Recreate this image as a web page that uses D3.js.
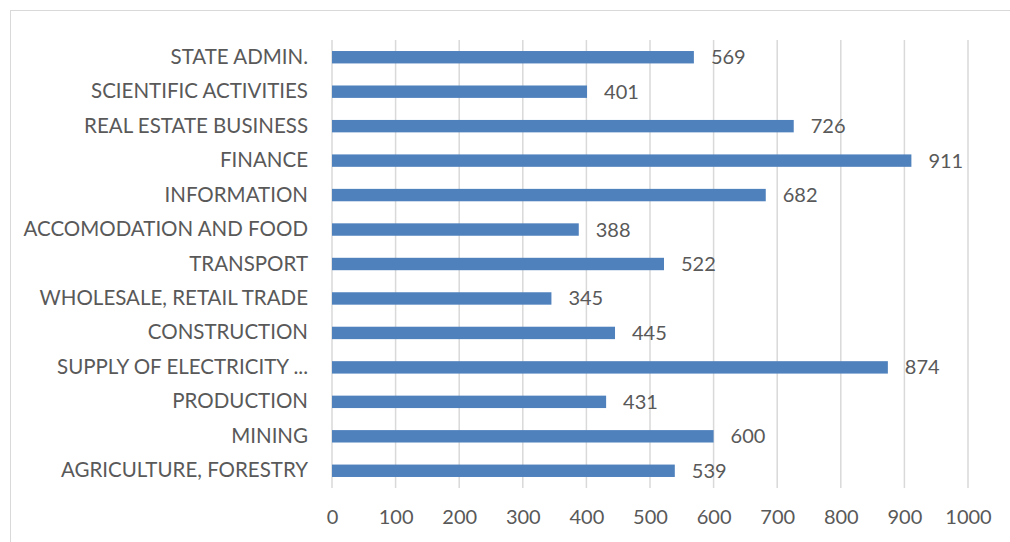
<!DOCTYPE html>
<html>
<head>
<meta charset="utf-8">
<script src="https://cdn.jsdelivr.net/npm/d3@7"></script>
<style>
  body { margin: 0; background: #fff; }
  svg { display: block; }
  text { font-family: Lato, "Open Sans", sans-serif; fill: #595959; }
</style>
</head>
<body>
<div class="graph"></div>
<script>
// categories from top to bottom, as in the picture
var categories = ["STATE ADMIN.", "SCIENTIFIC ACTIVITIES", "REAL ESTATE BUSINESS", "FINANCE",
    "INFORMATION", "ACCOMODATION AND FOOD", "TRANSPORT", "WHOLESALE, RETAIL TRADE",
    "CONSTRUCTION", "SUPPLY OF ELECTRICITY ...", "PRODUCTION", "MINING", "AGRICULTURE, FORESTRY"];
var values = [569, 401, 726, 911, 682, 388, 522, 345, 445, 874, 431, 600, 539];
var xTicks = [0, 100, 200, 300, 400, 500, 600, 700, 800, 900, 1000];

var W = 1010, H = 542;
var margin = {top: 40, right: 42, bottom: 54, left: 332};
var width = W - margin.left - margin.right;   // 636
var height = H - margin.top - margin.bottom;  // 448

var data = categories.map(function(c, i) { return {cat: c, val: values[i]}; });

var svg = d3.select(".graph").append("svg")
    .attr("width", W)
    .attr("height", H);

// outer frame, runs off the right and bottom of the picture
svg.append("rect")
    .attr("x", 10.5).attr("y", 10.5)
    .attr("width", W).attr("height", H)
    .attr("fill", "none")
    .attr("stroke", "#d9d9d9")
    .attr("stroke-width", 1);

var g = svg.append("g")
    .attr("transform", "translate(" + margin.left + "," + margin.top + ")");

var x = d3.scaleLinear().domain([0, 1000]).range([0, width]);
var y = d3.scaleBand()
    .domain(categories)
    .range([0, height])
    .paddingInner(0.64)
    .paddingOuter(0.32);

// vertical gridlines
g.selectAll(".grid").data(xTicks).enter().append("line")
    .attr("class", "grid")
    .attr("x1", function(d) { return x(d); })
    .attr("x2", function(d) { return x(d); })
    .attr("y1", 0).attr("y2", height)
    .attr("stroke", "#d9d9d9")
    .attr("stroke-width", 1.5);

// x axis labels
var xAxis = d3.axisBottom(x).tickValues(xTicks).tickFormat(d3.format("d"))
    .tickSize(0).tickPadding(22);
var xg = g.append("g")
    .attr("transform", "translate(0," + height + ")")
    .call(xAxis);
xg.select(".domain").remove();
xg.selectAll("text").style("font-size", "20px").attr("fill", "#595959");

// y axis labels
var yAxis = d3.axisLeft(y).tickSize(0).tickPadding(24);
var yg = g.append("g").call(yAxis);
yg.select(".domain").remove();
yg.selectAll("text").style("font-size", "20.5px").attr("fill", "#595959");

// bars
g.selectAll(".bar").data(data).enter().append("rect")
    .attr("class", "bar")
    .attr("x", x(0))
    .attr("y", function(d) { return y(d.cat); })
    .attr("width", function(d) { return x(d.val) - x(0); })
    .attr("height", y.bandwidth())
    .attr("fill", "#4f81bd");

// value labels
g.selectAll(".val").data(data).enter().append("text")
    .attr("class", "val")
    .attr("x", function(d) { return x(d.val) + 17; })
    .attr("y", function(d) { return y(d.cat) + y.bandwidth() / 2; })
    .attr("dy", "0.35em")
    .style("font-size", "20px")
    .text(function(d) { return d.val; });
</script>
</body>
</html>
